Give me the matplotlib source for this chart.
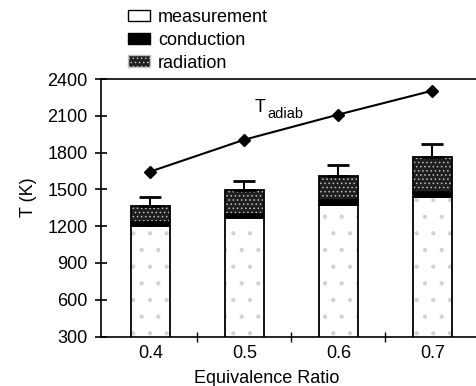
import numpy as np
import matplotlib
matplotlib.use('Agg')
import matplotlib.pyplot as plt
from matplotlib.patches import Patch

plt.rcParams['font.family'] = ['Liberation Sans', 'DejaVu Sans']
plt.rcParams['hatch.linewidth'] = 0.6

# values (K)
ratios = ['0.4', '0.5', '0.6', '0.7']
measurement = [1200, 1265, 1375, 1440]
conduction = [30, 30, 35, 35]
radiation = [135, 200, 200, 285]
err_upper = [70, 75, 90, 110]
t_adiab = [1645, 1905, 2110, 2305]

x = np.arange(len(ratios))
w = 0.41
meas = np.array(measurement)
cond = np.array(conduction)
rad = np.array(radiation)
top = meas + cond + rad

fig = plt.figure(figsize=(4.77, 3.86), dpi=100)
ax = fig.add_axes([101/477, 1 - 336.5/386, 378.5/477, 257.5/386])

# measurement: white with faint stipple
ax.bar(x, meas, w, color='white', edgecolor='0.82', hatch='.', linewidth=0)
ax.bar(x, meas, w, fill=False, edgecolor='black', linewidth=1.3)
# conduction: solid black
ax.bar(x, cond, w, bottom=meas, color='black', edgecolor='black', linewidth=1.3)
# radiation: dark speckle
ax.bar(x, rad, w, bottom=meas + cond, color='0.12', edgecolor='0.75', hatch='....', linewidth=0)
ax.bar(x, rad, w, bottom=meas + cond, fill=False, edgecolor='black', linewidth=1.3)

ax.errorbar(x, top, yerr=[np.zeros(len(x)), err_upper], fmt='none', ecolor='black',
            elinewidth=1.5, capsize=8, capthick=2)

ax.plot(x, t_adiab, color='black', linewidth=1.5, marker='D', markersize=6)
ax.text(1.113, 2131, 'T', fontsize=13, va='baseline', ha='left')
ax.text(1.24, 2078, 'adiab', fontsize=10.5, va='baseline', ha='left')

ax.set_xlim(-0.524, 3.5)
ax.set_ylim(300, 2400)
ax.set_yticks(np.arange(300, 2401, 300))
ax.set_xticks(x)
ax.set_xticklabels(ratios)
ax.set_xticks(x[:-1] + 0.5, minor=True)
ax.tick_params(axis='x', which='major', length=0, pad=6, labelsize=13)
ax.tick_params(axis='x', which='minor', direction='inout', length=7, width=1)
ax.tick_params(axis='y', direction='inout', length=9, width=1.2, pad=5, labelsize=13)
ax.spines['right'].set_visible(False)
for s in ['left', 'top', 'bottom']:
    ax.spines[s].set_linewidth(1.2)

ax.set_xlabel('Equivalence Ratio', fontsize=13)
ax.xaxis.set_label_coords((267 - 101) / 378.5, -0.132)
ax.set_ylabel('T (K)', fontsize=13)
ax.yaxis.set_label_coords(-0.17, (336.5 - 197) / 257.5)

handles = [Patch(facecolor='white', edgecolor='black', label='measurement'),
           Patch(facecolor='black', edgecolor='black', label='conduction'),
           Patch(facecolor='0.12', edgecolor='0.75', hatch='....', label='radiation')]
fig.legend(handles=handles, loc='upper left', bbox_to_anchor=(128/477, 1 - 9/386),
           frameon=False, fontsize=13, handlelength=1.2, handleheight=0.6,
           handletextpad=0.45, labelspacing=0.32, borderpad=0, borderaxespad=0)

fig.savefig('out.png', dpi=100)
